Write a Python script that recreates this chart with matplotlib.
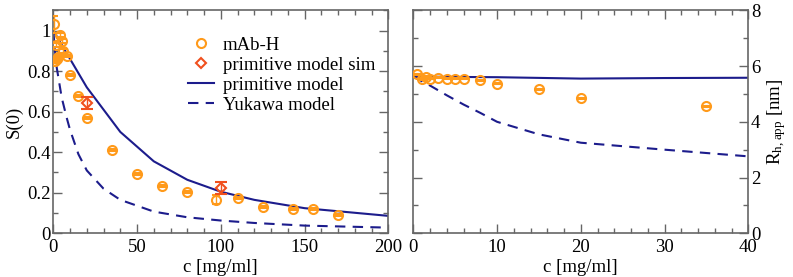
import numpy as np
import matplotlib.pyplot as plt
from matplotlib.lines import Line2D

plt.rcParams['font.family'] = ['Liberation Serif', 'DejaVu Serif']
plt.rcParams['font.size'] = 13.5

# left panel: S(0) vs c
c_exp = [0.5, 1, 1.5, 2, 3, 4, 5, 6, 8, 10, 15, 20, 35, 50, 65, 80, 97, 110, 125, 143, 155, 170]
s_exp = [1.03, 0.85, 0.93, 0.86, 0.87, 0.98, 0.95, 0.90, 0.875, 0.78, 0.677, 0.57,
         0.41, 0.292, 0.234, 0.203, 0.165, 0.173, 0.129, 0.118, 0.119, 0.091]
s_err = [0.04, 0.01, 0.01, 0.01, 0.01, 0.01, 0.01, 0.01, 0.005, 0.005, 0.005, 0.005,
         0.005, 0.005, 0.005, 0.005, 0.022, 0.005, 0.005, 0.005, 0.005, 0.005]

c_sim = [20, 100]
s_sim = [0.642, 0.222]
s_sim_err = [0.03, 0.03]

c_prim = [0, 5, 10, 20, 40, 60, 80, 100, 120, 150, 200]
s_prim = [1.0, 0.93, 0.86, 0.72, 0.50, 0.355, 0.264, 0.205, 0.165, 0.124, 0.086]

c_yuk = [0, 1, 2, 5, 8, 10, 15, 20, 30, 40, 60, 80, 100, 120, 150, 200]
s_yuk = [1.0, 0.90, 0.82, 0.67, 0.57, 0.51, 0.39, 0.31, 0.22, 0.165, 0.107, 0.079,
         0.063, 0.051, 0.038, 0.028]

# right panel: R_h,app vs c
c_rh = [0.5, 1, 1.5, 2, 3, 4, 5, 6, 8, 10, 15, 20, 35]
rh = [5.71, 5.52, 5.61, 5.55, 5.58, 5.55, 5.55, 5.54, 5.49, 5.37, 5.16, 4.84, 4.56]
rh_err = [0.02] * len(c_rh)

c_rh_prim = [0, 10, 20, 30, 40]
rh_prim = [5.62, 5.60, 5.55, 5.57, 5.58]

c_rh_yuk = [0, 2, 4, 6, 8, 10, 15, 20, 30, 40]
rh_yuk = [5.62, 5.30, 4.95, 4.62, 4.32, 4.0, 3.55, 3.25, 3.0, 2.76]

orange = '#ff9a1a'
red = '#f0501e'
navy = '#1c1c8c'
gray = '#666666'
dash = (0, (5, 3.5))

fig = plt.figure(figsize=(7.93, 2.77), dpi=100)
ax1 = fig.add_axes([53.3/793, 43.7/277, 335/793, 223/277])
ax2 = fig.add_axes([413.3/793, 43.7/277, 335/793, 223/277])

ax1.plot(c_prim, s_prim, color=navy, lw=1.5, zorder=2)
ax1.plot(c_yuk, s_yuk, color=navy, lw=1.5, ls=dash, zorder=2)
ax1.errorbar(c_exp, s_exp, yerr=s_err, fmt='o', mfc='none', mec=orange, ecolor=orange,
             ms=6.5, mew=1.5, elinewidth=1, capsize=3.2, zorder=3)
ax1.errorbar(c_sim, s_sim, yerr=s_sim_err, fmt='D', mfc='none', mec=red, ecolor=red,
             ms=5, mew=1.5, elinewidth=1, capsize=4, zorder=4)

ax1.set_xlim(0, 200)
ax1.set_ylim(0, 1.1)
ax1.set_xticks([0, 50, 100, 150, 200])
ax1.set_xticks(np.arange(0, 201, 10), minor=True)
ax1.set_yticks([0, 0.2, 0.4, 0.6, 0.8, 1])
ax1.set_yticklabels(['0', '0.2', '0.4', '0.6', '0.8', '1'])
ax1.set_yticks(np.arange(0, 1.11, 0.1), minor=True)
ax1.set_xlabel('c [mg/ml]', labelpad=2)
ax1.set_ylabel('S(0)', labelpad=3)

handles = [
    Line2D([], [], ls='none', marker='o', mfc='none', mec=orange, ms=6.5, mew=1.5),
    Line2D([], [], ls='none', marker='D', mfc='none', mec=red, ms=5, mew=1.5),
    Line2D([], [], color=navy, lw=1.5),
    Line2D([], [], color=navy, lw=1.5, ls=dash),
]
labels = ['mAb-H', 'primitive model sim', 'primitive model', 'Yukawa model']
ax1.legend(handles, labels, loc='upper left', bbox_to_anchor=(0.38, 0.915),
           frameon=False, handlelength=1.4, handletextpad=0.45, labelspacing=0.15,
           borderaxespad=0)

ax2.plot(c_rh_prim, rh_prim, color=navy, lw=1.5, zorder=2)
ax2.plot(c_rh_yuk, rh_yuk, color=navy, lw=1.5, ls=dash, zorder=2)
ax2.errorbar(c_rh, rh, yerr=rh_err, fmt='o', mfc='none', mec=orange, ecolor=orange,
             ms=6.5, mew=1.5, elinewidth=1, capsize=3.2, zorder=3)

ax2.set_xlim(0, 40)
ax2.set_ylim(0, 8)
ax2.set_xticks([0, 10, 20, 30, 40])
ax2.set_xticks(np.arange(0, 41, 2), minor=True)
ax2.set_yticks([0, 2, 4, 6, 8])
ax2.set_yticks(np.arange(0, 9, 1), minor=True)
ax2.yaxis.tick_right()
ax2.yaxis.set_label_position('right')
ax2.set_xlabel('c [mg/ml]', labelpad=2)
ax2.set_ylabel(r'$\mathregular{R_{h,app}}$ [nm]', labelpad=3)

for ax in (ax1, ax2):
    for sp in ax.spines.values():
        sp.set_color(gray)
        sp.set_linewidth(1.2)
    ax.tick_params(which='both', direction='in', top=True, bottom=True, left=True,
                   right=True, color=gray, width=1)
    ax.tick_params(which='major', length=6.5)
    ax.tick_params(axis='x', which='major', pad=4)
    ax.tick_params(axis='y', which='major', pad=2)
    ax.tick_params(which='minor', length=3.6)

fig.savefig('out.png', dpi=100)
